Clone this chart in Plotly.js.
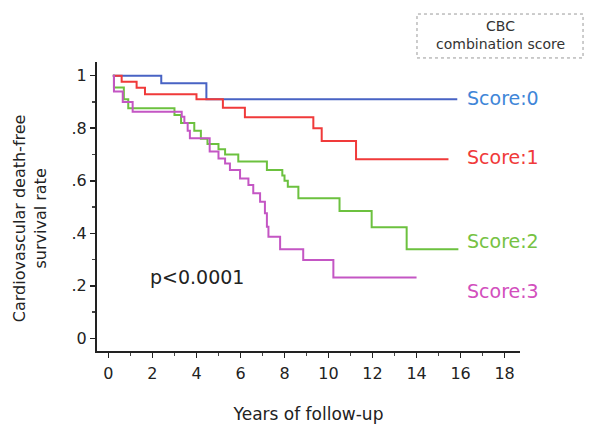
<!DOCTYPE html>
<html>
<head>
<meta charset="utf-8">
<script src="https://cdn.plot.ly/plotly-3.0.1.min.js"></script>
<style>html,body{margin:0;padding:0;background:#fff;}#chart{width:589px;height:428px;}</style>
</head>
<body>
<div id="chart"></div>
<script>
// Kaplan-Meier step data
var score0Years = [0.2, 2.4, 4.45, 15.85];
var score0Surv  = [1.0, 0.971, 0.91, 0.91];

var score1Years = [0.2, 0.6, 1.28, 1.66, 4.0, 5.2, 6.2, 9.31, 9.69, 11.25, 15.45];
var score1Surv  = [1.0, 0.977, 0.954, 0.929, 0.91, 0.878, 0.842, 0.80, 0.751, 0.682, 0.682];

var score2Years = [0.2, 0.25, 0.7, 0.9, 3.0, 3.3, 3.9, 4.2, 4.5, 5.0, 5.3, 5.9, 7.2, 7.9, 8.0, 8.15, 8.63, 10.5, 11.96, 13.55, 15.9];
var score2Surv  = [1.0, 0.955, 0.91, 0.876, 0.85, 0.82, 0.79, 0.76, 0.74, 0.72, 0.70, 0.673, 0.641, 0.62, 0.60, 0.577, 0.533, 0.485, 0.423, 0.339, 0.339];

var score3Years = [0.2, 0.25, 0.65, 1.1, 3.33, 3.45, 3.6, 3.7, 4.6, 5.0, 5.3, 5.52, 5.98, 6.36, 6.58, 6.89, 7.11, 7.2, 7.27, 7.8, 8.85, 10.22, 14.0];
var score3Surv  = [1.0, 0.94, 0.90, 0.863, 0.844, 0.82, 0.79, 0.762, 0.711, 0.685, 0.666, 0.641, 0.609, 0.584, 0.552, 0.52, 0.476, 0.425, 0.387, 0.339, 0.298, 0.232, 0.232];

var seriesNames = ['Score:0', 'Score:1', 'Score:2', 'Score:3'];
var lineColors  = ['#4863c4', '#f03a3a', '#6cc13f', '#c456c4'];
var labelColors = ['#3f86d8', '#f03a3a', '#76c243', '#d24fbd'];
var labelY      = [0.915, 0.69, 0.37, 0.18];

var xTickVals = [0, 2, 4, 6, 8, 10, 12, 14, 16, 18];
var yTickVals = [0, 0.2, 0.4, 0.6, 0.8, 1];
var yTickText = ['0', '.2', '.4', '.6', '.8', '1'];

var FONT = 'DejaVu Sans, Verdana, sans-serif';

var xs = [score0Years, score1Years, score2Years, score3Years];
var ys = [score0Surv, score1Surv, score2Surv, score3Surv];

var traces = xs.map(function (x, i) {
  return {
    x: x, y: ys[i], name: seriesNames[i], type: 'scatter', mode: 'lines',
    line: {shape: 'hv', color: lineColors[i], width: 2},
    hoverinfo: 'skip'
  };
});

var annotations = seriesNames.map(function (n, i) {
  return {
    text: n, x: 16.2, y: labelY[i], xref: 'x', yref: 'y',
    xanchor: 'left', yanchor: 'middle', showarrow: false,
    font: {family: FONT, size: 19, color: labelColors[i]}
  };
});
annotations.push({
  text: 'p<0.0001', x: 1.78, y: 0.232, xref: 'x', yref: 'y',
  xanchor: 'left', yanchor: 'middle', showarrow: false,
  font: {family: FONT, size: 19, color: '#222'}
});
annotations.push({
  text: 'CBC<br>combination score', x: 0.953, y: 1.092, xref: 'paper', yref: 'paper',
  xanchor: 'center', yanchor: 'middle', showarrow: false,
  font: {family: FONT, size: 14, color: '#333'}
});
// y-axis title (placed as rotated text, slightly below plot centre as in the original)
annotations.push({
  text: 'Cardiovascular death-free<br>survival rate', x: -0.158, y: 0.46,
  xref: 'paper', yref: 'paper', xanchor: 'center', yanchor: 'middle',
  textangle: -90, showarrow: false,
  font: {family: FONT, size: 16, color: '#222'}
});

var axisFont = {family: FONT, size: 16, color: '#222'};

var layout = {
  width: 589, height: 428,
  margin: {l: 97, r: 69, t: 62, b: 77, pad: 0},
  paper_bgcolor: '#fff', plot_bgcolor: '#fff',
  showlegend: false,
  xaxis: {
    range: [-0.52, 18.7], showgrid: false, zeroline: false,
    showline: true, linecolor: '#222', linewidth: 2,
    ticks: 'outside', ticklen: 5, tickwidth: 1.5, tickcolor: '#222',
    tickvals: xTickVals, tickfont: axisFont, ticklabelstandoff: 2,
    minor: {dtick: 1, ticks: 'outside', ticklen: 3, tickcolor: '#444', showgrid: false},
    title: {text: 'Years of follow-up', standoff: 26, font: {family: FONT, size: 17, color: '#222'}}
  },
  yaxis: {
    range: [-0.048, 1.052], showgrid: false, zeroline: false,
    showline: true, linecolor: '#222', linewidth: 2,
    ticks: 'outside', ticklen: 5, tickwidth: 1.5, tickcolor: '#222',
    tickvals: yTickVals, ticktext: yTickText, tickfont: axisFont,
    minor: {dtick: 0.1, tick0: 0, ticks: 'outside', ticklen: 3, tickcolor: '#444', showgrid: false}
  },
  annotations: annotations,
  shapes: [{
    type: 'rect', xref: 'paper', yref: 'paper',
    x0: 0.7565, x1: 1.149, y0: 1.014, y1: 1.166,
    line: {color: '#999', width: 1, dash: 'dot'}, fillcolor: 'rgba(0,0,0,0)'
  }]
};

Plotly.newPlot('chart', traces, layout, {displayModeBar: false, staticPlot: true});
</script>
</body>
</html>
